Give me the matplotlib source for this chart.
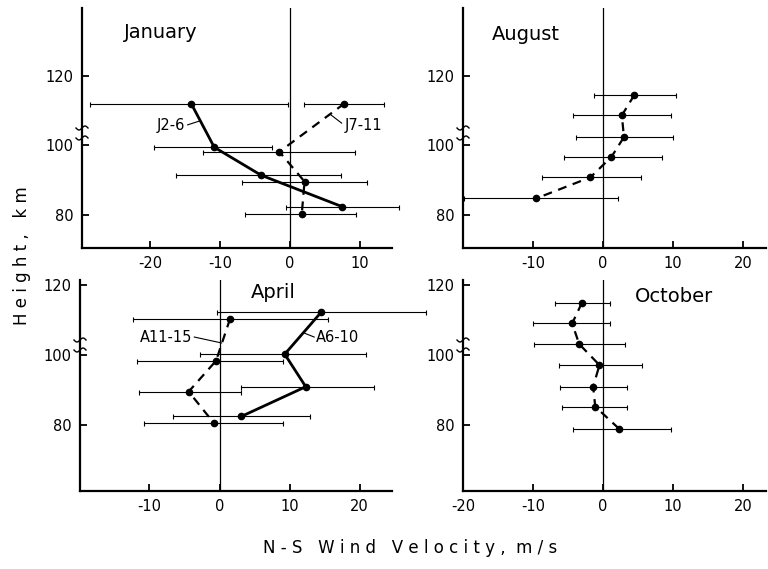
import numpy as np
import matplotlib
matplotlib.use("Agg")
import matplotlib.pyplot as plt
from matplotlib.lines import Line2D

plt.rcParams['font.family'] = ['DejaVu Sans']
plt.rcParams['axes.unicode_minus'] = False

# January  (J2-6 solid, J7-11 dashed)
jan_h_a = [112.0, 99.5, 91.5, 82.5]
jan_u_a = [-14.1, -10.8, -4.1, 7.5]
jan_lo_a = [-28.5, -19.4, -16.2, -0.6]
jan_hi_a = [-0.2, -2.5, 7.3, 15.6]

jan_h_b = [112.0, 98.2, 89.7, 80.3]
jan_u_b = [7.8, -1.5, 2.1, 1.7]
jan_lo_b = [2.0, -12.4, -6.9, -6.4]
jan_hi_b = [13.5, 9.3, 11.0, 9.4]

# August
aug_h = [114.5, 108.6, 102.4, 96.7, 90.9, 84.9]
aug_u = [4.5, 2.7, 3.0, 1.2, -1.8, -9.5]
aug_lo = [-1.3, -4.3, -3.9, -5.6, -8.7, -19.9]
aug_hi = [10.5, 9.7, 9.95, 8.4, 5.4, 2.1]

# April  (A6-10 solid, A11-15 dashed)
apr_h_a = [112.2, 100.2, 90.9, 82.4]
apr_u_a = [14.5, 9.3, 12.3, 3.1]
apr_lo_a = [-0.4, -2.8, 3.1, -6.7]
apr_hi_a = [29.4, 20.9, 22.0, 12.9]

apr_h_b = [110.3, 98.3, 89.5, 80.5]
apr_u_b = [1.5, -0.5, -4.4, -0.8]
apr_lo_b = [-12.4, -11.7, -11.5, -10.8]
apr_hi_b = [15.5, 9.0, 3.1, 9.0]

# October
oct_h = [114.9, 109.0, 103.1, 97.1, 90.9, 85.2, 78.9]
oct_u = [-3.0, -4.4, -3.4, -0.5, -1.4, -1.1, 2.3]
oct_lo = [-6.9, -10.0, -9.9, -6.3, -6.1, -5.8, -4.3]
oct_hi = [1.0, 1.0, 3.1, 5.6, 3.4, 3.4, 9.7]

W, H = 768, 569
fig = plt.figure(figsize=(W / 100, H / 100), dpi=100)


def squiggle(xc, yc):
    # little "~" break mark across the height axis, in pixel units
    t = np.linspace(-6, 6, 25)
    xs = (xc + t) / W
    ys = 1 - (yc - 2.0 * np.sin(np.pi * t / 6)) / H
    fig.add_artist(Line2D(xs, ys, transform=fig.transFigure, color='black', lw=1.0))


def make_ax(left, right, top, bottom, xlim, ylim, xticks, breaks):
    ax = fig.add_axes([left / W, 1 - bottom / H, (right - left) / W, (bottom - top) / H])
    ax.set_xlim(*xlim)
    ax.set_ylim(*ylim)
    for s in ['top', 'right']:
        ax.spines[s].set_visible(False)
    for s in ['left', 'bottom']:
        ax.spines[s].set_linewidth(1.6)
    ax.set_xticks(xticks)
    ax.set_yticks([80, 100, 120])
    ax.tick_params(direction='in', length=5, width=1.3, labelsize=10.5, pad=6)
    ax.axvline(0, color='black', lw=0.9)
    for b in breaks:
        squiggle(left, b)
    return ax


def profile(ax, u, h, lo, hi, ls):
    u = np.array(u)
    xerr = [u - np.array(lo), np.array(hi) - u]
    ax.errorbar(u, h, xerr=xerr, fmt='none', ecolor='black', elinewidth=0.8,
                capsize=1.8, capthick=0.8, clip_on=False)
    if ls == 'solid':
        ax.plot(u, h, color='black', lw=2.0, marker='o', ms=4.5, clip_on=False)
    else:
        ax.plot(u, h, color='black', lw=1.6, ls=(0, (4, 3)), marker='o', ms=4.5, clip_on=False)


ax1 = make_ax(82, 392, 8, 248, (-29.7, 14.6), (70.7, 139.3), [-20, -10, 0, 10], [128, 138])
profile(ax1, jan_u_a, jan_h_a, jan_lo_a, jan_hi_a, 'solid')
profile(ax1, jan_u_b, jan_h_b, jan_lo_b, jan_hi_b, 'dashed')
ax1.text(-15.0, 105.6, 'J2-6', ha='right', va='center', fontsize=10.5)
ax1.plot([-14.6, -12.9], [105.9, 107.0], color='black', lw=0.8)
ax1.text(7.9, 105.6, 'J7-11', ha='left', va='center', fontsize=10.5)
ax1.plot([5.9, 7.4], [108.7, 106.4], color='black', lw=0.8)

ax2 = make_ax(463, 766, 8, 248, (-20, 23.3), (70.7, 139.3), [-10, 0, 10, 20], [128, 138])
profile(ax2, aug_u, aug_h, aug_lo, aug_hi, 'dashed')

ax3 = make_ax(80, 392, 280, 491, (-19.9, 24.6), (61.1, 121.4), [-10, 0, 10, 20], [340, 350])
profile(ax3, apr_u_a, apr_h_a, apr_lo_a, apr_hi_a, 'solid')
profile(ax3, apr_u_b, apr_h_b, apr_lo_b, apr_hi_b, 'dashed')
ax3.text(-3.9, 105.1, 'A11-15', ha='right', va='center', fontsize=10.5)
ax3.plot([-3.6, 0.3], [105.1, 103.4], color='black', lw=0.8)
ax3.text(13.8, 105.1, 'A6-10', ha='left', va='center', fontsize=10.5)
ax3.plot([12.0, 13.5], [106.3, 105.1], color='black', lw=0.8)

ax4 = make_ax(463, 766, 280, 491, (-20, 23.3), (61.1, 121.4), [-20, -10, 0, 10, 20], [340, 350])
profile(ax4, oct_u, oct_h, oct_lo, oct_hi, 'dashed')

# panel titles
fig.text(161 / W, 1 - 33 / H, 'January', ha='center', va='center', fontsize=14)
fig.text(526 / W, 1 - 35 / H, 'August', ha='center', va='center', fontsize=14)
fig.text(273 / W, 1 - 292 / H, 'April', ha='center', va='center', fontsize=14)
fig.text(674 / W, 1 - 297 / H, 'October', ha='center', va='center', fontsize=14)

fig.text(22 / W, 1 - 256 / H, 'H e i g h t ,   k m', rotation=90, ha='center', va='center', fontsize=12)
fig.text(410 / W, 1 - 548 / H, 'N - S   W i n d   V e l o c i t y ,  m / s', ha='center', va='center', fontsize=12)

fig.savefig('out.png', dpi=100, facecolor='white')
